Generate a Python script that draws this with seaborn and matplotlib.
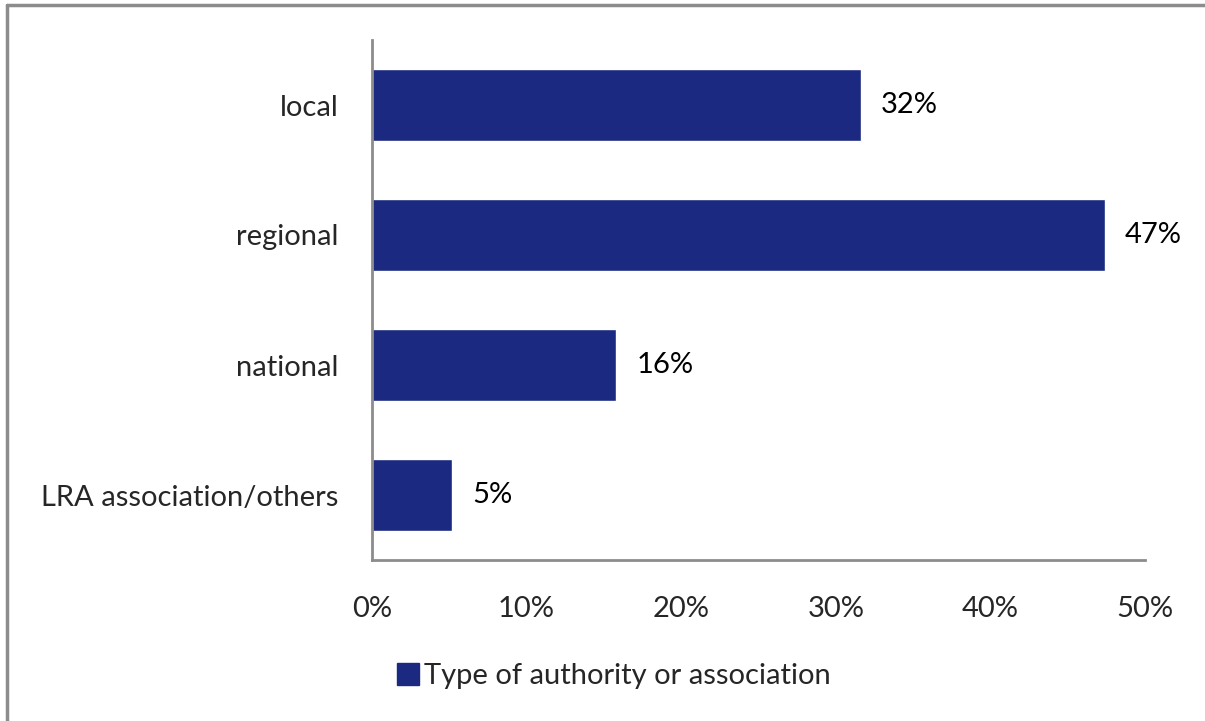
import pandas as pd
import matplotlib
matplotlib.use('Agg')
import matplotlib.pyplot as plt
import seaborn as sns
from matplotlib.lines import Line2D
from matplotlib.patches import Patch

# Data
categories = ['local', 'regional', 'national', 'LRA association/others']
shares = [31.6, 47.4, 15.8, 5.2]
value_labels = ['32%', '47%', '16%', '5%']
x_ticks = [0, 10, 20, 30, 40, 50]
x_tick_labels = ['0%', '10%', '20%', '30%', '40%', '50%']
series_name = 'Type of authority or association'

bar_color = '#1B2A80'
axis_color = '#8C8C8C'

df = pd.DataFrame({'category': categories, 'share': shares})

sns.set_style('white')
plt.rcParams['font.family'] = ['Lato', 'DejaVu Sans']

fig = plt.figure(figsize=(12.05, 7.21), dpi=100)
ax = fig.add_axes([372 / 1205, 161 / 721, 773 / 1205, 520 / 721])

sns.barplot(data=df, x='share', y='category', color=bar_color,
            width=0.554, saturation=1, ax=ax)

# value labels next to bars
for i, (v, lab) in enumerate(zip(shares, value_labels)):
    ax.text(v + 1.3, i, lab, va='center', ha='left', fontsize=21, color='black')

ax.set_xlim(0, 50)
ax.set_ylim(3.5, -0.5)
ax.set_xticks(x_ticks)
ax.set_xticklabels(x_tick_labels)
ax.set_xlabel('')
ax.set_ylabel('')
ax.tick_params(axis='x', length=0, pad=26, labelsize=21)
ax.tick_params(axis='y', length=0, pad=24, labelsize=21)

for side in ['top', 'right']:
    ax.spines[side].set_visible(False)
for side in ['left', 'bottom']:
    ax.spines[side].set_color(axis_color)
    ax.spines[side].set_linewidth(2)

# legend under the plot
handle = Patch(facecolor=bar_color, edgecolor=bar_color, label=series_name)
fig.legend(handles=[handle], loc='center', bbox_to_anchor=(614 / 1205, 1 - 676 / 721),
           frameon=False, fontsize=21, handlelength=0.75, handleheight=0.75,
           handletextpad=0.2)

# outer chart frame (left and top edges visible)
fx, fy = 7 / 1205, 1 - 5 / 721
fig.add_artist(Line2D([fx, fx], [0, fy], transform=fig.transFigure,
                      color=axis_color, linewidth=2.5))
fig.add_artist(Line2D([fx, 1], [fy, fy], transform=fig.transFigure,
                      color=axis_color, linewidth=2.5))

fig.savefig('out.png', dpi=100)
